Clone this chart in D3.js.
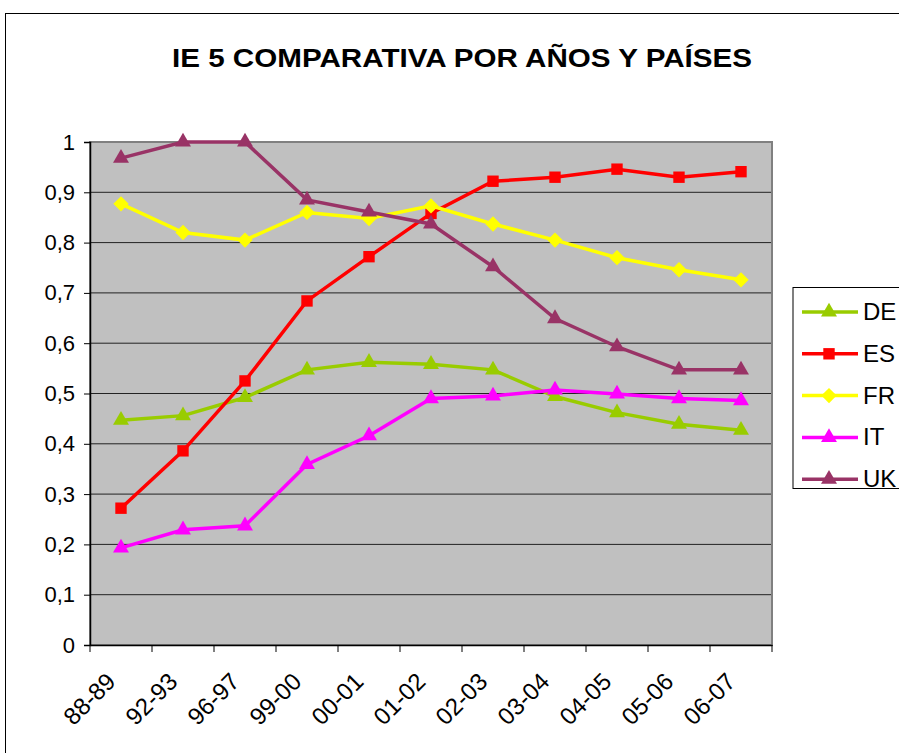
<!DOCTYPE html>
<html lang="es">
<head>
  <meta charset="UTF-8">
  <title>IE 5 comparativa por años y países</title>
  <script src="https://d3js.org/d3.v7.min.js"></script>
  <style>
    body { margin: 0; background: #fff; font-family: "Liberation Sans", Arial, sans-serif; }
    svg { display: block; }
  </style>
</head>
<body>
  <svg id="chart" width="899" height="753"></svg>
  <script>
    // datos
    const years = ["88-89", "92-93", "96-97", "99-00", "00-01", "01-02", "02-03", "03-04", "04-05", "05-06", "06-07"];
    const countries = ["DE", "ES", "FR", "IT", "UK"];
    const DE = [0.447, 0.456, 0.492, 0.547, 0.562, 0.558, 0.547, 0.494, 0.462, 0.439, 0.427];
    const ES = [0.272, 0.386, 0.525, 0.684, 0.772, 0.858, 0.922, 0.930, 0.946, 0.930, 0.941];
    const FR = [0.877, 0.820, 0.805, 0.860, 0.848, 0.873, 0.837, 0.805, 0.770, 0.746, 0.726];
    const IT = [0.193, 0.229, 0.237, 0.359, 0.416, 0.490, 0.495, 0.507, 0.499, 0.490, 0.486];
    const UK = [0.968, 1.000, 1.000, 0.885, 0.861, 0.837, 0.752, 0.649, 0.593, 0.547, 0.547];
    const yTicks = [0, 0.1, 0.2, 0.3, 0.4, 0.5, 0.6, 0.7, 0.8, 0.9, 1];

    const series = [
      { name: "DE", values: DE, color: "#99cc00", symbol: d3.symbolTriangle, size: 110 },
      { name: "ES", values: ES, color: "#ff0000", symbol: d3.symbolSquare, size: 130 },
      { name: "FR", values: FR, color: "#ffff00", symbol: d3.symbolDiamond2, size: 150 },
      { name: "IT", values: IT, color: "#ff00ff", symbol: d3.symbolTriangle, size: 110 },
      { name: "UK", values: UK, color: "#993366", symbol: d3.symbolTriangle, size: 110 }
    ];

    const svg = d3.select("#chart");
    const plot = { left: 90, right: 772, top: 142, bottom: 645 };

    // marco exterior
    svg.append("rect")
      .attr("x", 5.5).attr("y", 13.5)
      .attr("width", 920).attr("height", 760)
      .attr("fill", "none").attr("stroke", "#000").attr("stroke-width", 1);

    svg.append("text")
      .attr("x", 462).attr("y", 67)
      .attr("text-anchor", "middle")
      .attr("textLength", 580)
      .attr("lengthAdjust", "spacingAndGlyphs")
      .style("font-size", "25px")
      .style("font-weight", "bold")
      .text("IE 5 COMPARATIVA POR AÑOS Y PAÍSES");

    const x = d3.scaleBand().domain(years).range([plot.left, plot.right]);
    const y = d3.scaleLinear().domain([0, 1]).range([plot.bottom, plot.top]);

    svg.append("rect")
      .attr("x", plot.left).attr("y", plot.top)
      .attr("width", plot.right - plot.left).attr("height", plot.bottom - plot.top)
      .attr("fill", "#c0c0c0");

    svg.append("g")
      .selectAll("line")
      .data(yTicks.slice(1))
      .enter().append("line")
      .attr("x1", plot.left).attr("x2", plot.right)
      .attr("y1", d => y(d)).attr("y2", d => y(d))
      .attr("stroke", "#222").attr("stroke-width", 1);

    svg.append("rect")
      .attr("x", plot.left).attr("y", plot.top)
      .attr("width", plot.right - plot.left).attr("height", plot.bottom - plot.top)
      .attr("fill", "none").attr("stroke", "#808080").attr("stroke-width", 2);

    // eje Y
    const yAxis = svg.append("g")
      .attr("transform", `translate(${plot.left},0)`)
      .call(d3.axisLeft(y).tickValues(yTicks).tickSize(6).tickPadding(9)
        .tickFormat(d => d3.format(".1~f")(d).replace(".", ",")));
    yAxis.select(".domain").attr("stroke", "#000").attr("stroke-width", 1.5);
    yAxis.selectAll("text")
      .style("font-size", "22px").style("font-family", "Liberation Sans, Arial, sans-serif")
      .attr("fill", "#000");

    // eje X
    const xAxis = svg.append("g")
      .attr("transform", `translate(0,${plot.bottom})`)
      .call(d3.axisBottom(x).tickSize(0).tickPadding(0));
    xAxis.select(".domain").attr("stroke", "#000").attr("stroke-width", 1.5);
    xAxis.selectAll(".tick line").remove();
    xAxis.append("g").selectAll("line")
      .data(years.concat(["end"]))
      .enter().append("line")
      .attr("x1", (d, i) => plot.left + i * x.bandwidth())
      .attr("x2", (d, i) => plot.left + i * x.bandwidth())
      .attr("y1", 0).attr("y2", 7)
      .attr("stroke", "#000");
    xAxis.selectAll(".tick text")
      .attr("text-anchor", "end")
      .attr("dy", 0)
      .attr("transform", "translate(-4,38) rotate(-45)")
      .style("font-size", "24px").style("font-family", "Liberation Sans, Arial, sans-serif")
      .attr("fill", "#000");

    // series
    const line = d3.line()
      .x((d, i) => x(years[i]) + x.bandwidth() / 2)
      .y(d => y(d));

    series.forEach(s => {
      svg.append("path")
        .datum(s.values)
        .attr("d", line)
        .attr("fill", "none")
        .attr("stroke", s.color)
        .attr("stroke-width", 3.5);
      svg.append("g").selectAll("path")
        .data(s.values)
        .enter().append("path")
        .attr("d", d3.symbol().type(s.symbol).size(s.size))
        .attr("transform", (d, i) => `translate(${x(years[i]) + x.bandwidth() / 2},${y(d)})`)
        .attr("fill", s.color);
    });

    // leyenda
    const legend = svg.append("g");
    legend.append("rect")
      .attr("x", 793).attr("y", 287.5)
      .attr("width", 130).attr("height", 201)
      .attr("fill", "#fff").attr("stroke", "#000").attr("stroke-width", 1);
    series.forEach((s, i) => {
      const ly = 312 + i * 41.8;
      legend.append("line")
        .attr("x1", 802).attr("x2", 858)
        .attr("y1", ly).attr("y2", ly)
        .attr("stroke", s.color).attr("stroke-width", 3.5);
      legend.append("path")
        .attr("d", d3.symbol().type(s.symbol).size(s.size))
        .attr("transform", `translate(829,${ly})`)
        .attr("fill", s.color);
      legend.append("text")
        .attr("x", 863).attr("y", ly + 8)
        .style("font-size", "24px")
        .text(countries[i]);
    });
  </script>
</body>
</html>
